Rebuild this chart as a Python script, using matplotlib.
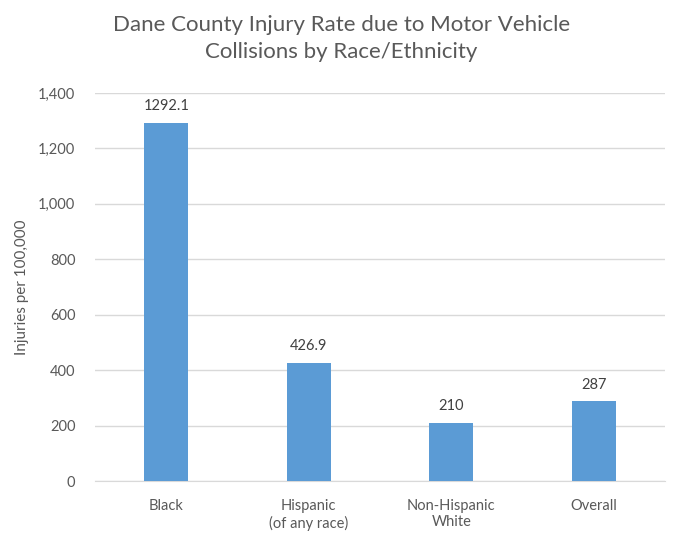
import numpy as np
import matplotlib.pyplot as plt

plt.rcParams['font.family'] = ['Lato', 'DejaVu Sans']

# data
categories = ['Black', 'Hispanic\n(of any race)', 'Non-Hispanic\nWhite', 'Overall']
rates = [1292.1, 426.9, 210, 287]
rate_labels = ['1292.1', '426.9', '210', '287']

bar_color = '#5B9BD5'
text_color = '#595959'

fig = plt.figure(figsize=(6.83, 5.36), dpi=100)
ax = fig.add_axes([0.139, 0.1026, 0.835, 0.724])

x = np.arange(len(categories))
ax.bar(x, rates, width=0.31, color=bar_color, zorder=3)
for xi, v, lab in zip(x, rates, rate_labels):
    ax.text(xi, v + 35, lab, ha='center', va='bottom', fontsize=10.5, color='#404040')

ax.set_xlim(-0.5, len(categories) - 0.5)
ax.set_ylim(0, 1400)
ax.set_yticks(np.arange(0, 1401, 200))
ax.set_yticklabels([f'{t:,}' for t in range(0, 1401, 200)])
ax.set_xticks(x)
ax.set_xticklabels(categories)
ax.tick_params(axis='both', length=0, colors=text_color, labelsize=10.5)
ax.tick_params(axis='x', pad=13)
ax.tick_params(axis='y', pad=14)
ax.grid(axis='y', color='#D9D9D9', linewidth=1, zorder=0)
for s in ['top', 'right', 'left']:
    ax.spines[s].set_visible(False)
ax.spines['bottom'].set_color('#D9D9D9')

ax.set_ylabel('Injuries per 100,000', fontsize=11, color=text_color, labelpad=7)

fig.text(0.5, 0.928, 'Dane County Injury Rate due to Motor Vehicle\nCollisions by Race/Ethnicity',
         ha='center', va='center', fontsize=16, color=text_color, linespacing=1.45)

fig.savefig('out.png', dpi=100)
